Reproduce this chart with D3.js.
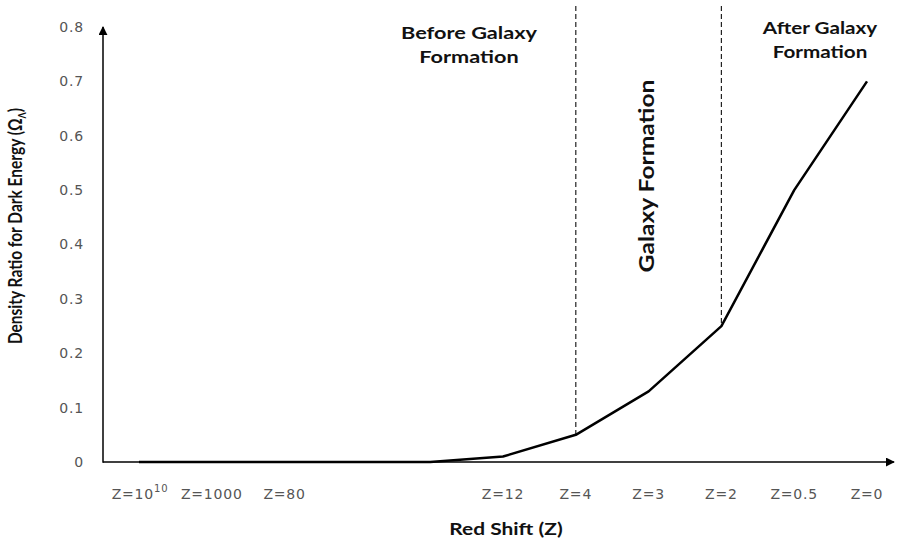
<!DOCTYPE html>
<html>
<head>
<meta charset="utf-8">
<script src="https://cdn.jsdelivr.net/npm/d3@7"></script>
<style>
  body { margin: 0; background: #fff; }
  .tick-label { font-family: 'DejaVu Sans', sans-serif; font-size: 14px; fill: #555; letter-spacing: 0.8px; }
  .title { font-family: Lato, 'Open Sans', sans-serif; font-weight: bold; fill: #111; }
</style>
</head>
<body>
<div id="chart"></div>
<script>
// categories along the red shift axis (two unlabelled steps between Z=80 and Z=12)
const categories = ['z1e10', 'z1000', 'z80', 'gap1', 'gap2', 'z12', 'z4', 'z3', 'z2', 'z05', 'z0'];
const tickLabels = ['Z=10', 'Z=1000', 'Z=80', '', '', 'Z=12', 'Z=4', 'Z=3', 'Z=2', 'Z=0.5', 'Z=0'];
// dark energy density ratio
const omegaValues = [0, 0, 0, 0, 0, 0.01, 0.05, 0.13, 0.25, 0.5, 0.7];
const yTicks = [0, 0.1, 0.2, 0.3, 0.4, 0.5, 0.6, 0.7, 0.8];
// epoch boundaries
const boundaries = ['z4', 'z2'];

const width = 903;
const height = 544;
const origin = { x: 103, y: 462 };

const svg = d3.select('#chart')
  .append('svg')
  .attr('width', width)
  .attr('height', height);

const xScale = d3.scalePoint().domain(categories).range([139, 867]);
const yScale = d3.scaleLinear().domain([0, 0.8]).range([origin.y, 27]);

// arrow head
svg.append('defs')
  .append('marker')
  .attr('id', 'arrow')
  .attr('viewBox', '0 0 10 10')
  .attr('refX', 9)
  .attr('refY', 5)
  .attr('markerWidth', 9)
  .attr('markerHeight', 9)
  .attr('markerUnits', 'userSpaceOnUse')
  .attr('orient', 'auto')
  .append('path')
  .attr('d', 'M0,0 L10,5 L0,10 z')
  .attr('fill', '#000');

// axes lines
svg.append('line')
  .attr('x1', origin.x).attr('y1', origin.y)
  .attr('x2', 894).attr('y2', origin.y)
  .attr('stroke', '#000').attr('stroke-width', 1.5)
  .attr('marker-end', 'url(#arrow)');

svg.append('line')
  .attr('x1', origin.x).attr('y1', origin.y + 0.75)
  .attr('x2', origin.x).attr('y2', 27)
  .attr('stroke', '#000').attr('stroke-width', 1.5)
  .attr('marker-end', 'url(#arrow)');

// y tick labels
svg.append('g')
  .selectAll('text')
  .data(yTicks)
  .join('text')
  .attr('class', 'tick-label')
  .attr('x', 84)
  .attr('y', (d) => yScale(d))
  .attr('dy', '0.35em')
  .attr('text-anchor', 'end')
  .text((d) => (d === 0 ? '0' : d.toFixed(1)));

// x tick labels
const xLabels = svg.append('g')
  .selectAll('text')
  .data(categories)
  .join('text')
  .attr('class', 'tick-label')
  .attr('x', (d) => xScale(d))
  .attr('y', 499)
  .attr('text-anchor', 'middle');

xLabels.text((d, i) => tickLabels[i]);
xLabels.filter((d) => d === 'z1e10')
  .append('tspan')
  .attr('dy', -7)
  .style('font-size', '10px')
  .text('10');
xLabels.filter((d) => d === 'z1e10').attr('x', xScale('z1e10') + 1);

// epoch boundaries
svg.append('g')
  .selectAll('line')
  .data(boundaries)
  .join('line')
  .attr('x1', (d) => xScale(d))
  .attr('x2', (d) => xScale(d))
  .attr('y1', 6)
  .attr('y2', (d) => yScale(omegaValues[categories.indexOf(d)]))
  .attr('stroke', '#222')
  .attr('stroke-width', 1.2)
  .attr('stroke-dasharray', '5,3');

// the curve
const line = d3.line()
  .x((d, i) => xScale(categories[i]))
  .y((d) => yScale(d));

svg.append('path')
  .datum(omegaValues)
  .attr('d', line)
  .attr('fill', 'none')
  .attr('stroke', '#000')
  .attr('stroke-width', 2.5)
  .attr('stroke-linejoin', 'round');

// epoch labels (the original is a little stretched sideways)
function wideLabel(cx, lines, baselines, size, stretch) {
  const g = svg.append('g')
    .attr('transform', `translate(${cx}, 0) scale(${stretch}, 1)`);
  const t = g.append('text')
    .attr('class', 'title')
    .attr('text-anchor', 'middle')
    .style('font-size', size + 'px');
  lines.forEach((l, i) => {
    t.append('tspan').attr('x', 0).attr('y', baselines[i]).text(l);
  });
  return g;
}

wideLabel(469, ['Before Galaxy', 'Formation'], [39, 63], 17.5, 1.24);
wideLabel(820, ['After Galaxy', 'Formation'], [34, 58], 17.5, 1.18);
wideLabel(506, ['Red Shift (Z)'], [535], 17, 1.23);

svg.append('text')
  .attr('class', 'title')
  .attr('text-anchor', 'middle')
  .attr('transform', 'translate(654, 176) rotate(-90) scale(1.2, 1)')
  .style('font-size', '20.5px')
  .text('Galaxy Formation');

const yTitle = svg.append('text')
  .attr('class', 'title')
  .attr('text-anchor', 'middle')
  .attr('transform', 'translate(22, 226) rotate(-90) scale(1, 1.2)')
  .style('font-size', '15.5px');
yTitle.append('tspan').text('Density Ratio for Dark Energy (Ω');
yTitle.append('tspan').attr('dy', 3).style('font-size', '9px').text('Λ');
yTitle.append('tspan').attr('dy', -3).text(')');
</script>
</body>
</html>
